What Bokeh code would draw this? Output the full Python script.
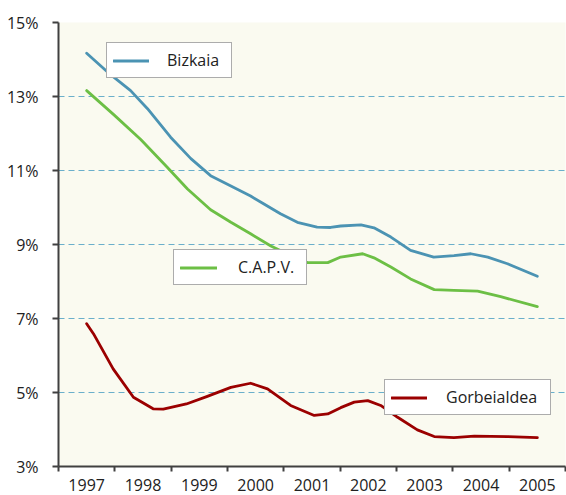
from bokeh.plotting import figure
from bokeh.models import (FixedTicker, PrintfTickFormatter, Legend, LegendItem,
                          Range1d, ColumnDataSource)
from bokeh.embed import file_html
from bokeh.resources import INLINE

# ---- data ----
years = [1997, 1998, 1999, 2000, 2001, 2002, 2003, 2004, 2005]
y_ticks = [3, 5, 7, 9, 11, 13, 15]

bizkaia_t = [1997.00, 1997.37, 1997.78, 1998.08, 1998.49, 1998.85, 1999.20, 1999.56,
             1999.91, 2000.14, 2000.44, 2000.74, 2001.09, 2001.33, 2001.51, 2001.87,
             2002.10, 2002.40, 2002.75, 2003.16, 2003.52, 2003.82, 2004.12, 2004.47,
             2005.00]
bizkaia_v = [14.17, 13.66, 13.16, 12.67, 11.90, 11.32, 10.86, 10.58,
             10.31, 10.10, 9.83, 9.60, 9.47, 9.46, 9.50, 9.53,
             9.45, 9.20, 8.84, 8.66, 8.70, 8.75, 8.66, 8.48,
             8.14]

capv_t = [1997.00, 1997.48, 1997.96, 1998.43, 1998.79, 1999.20, 1999.56, 1999.91,
          2000.27, 2000.68, 2000.92, 2001.28, 2001.51, 2001.90, 2002.10, 2002.40,
          2002.75, 2003.17, 2003.52, 2003.94, 2004.35, 2005.00]
capv_v = [13.16, 12.51, 11.84, 11.09, 10.50, 9.94, 9.60, 9.29,
          8.96, 8.66, 8.51, 8.51, 8.66, 8.75, 8.64, 8.39,
          8.07, 7.78, 7.76, 7.74, 7.59, 7.32]

gorb_t = [1997.00, 1997.12, 1997.47, 1997.83, 1998.18, 1998.36, 1998.77, 1999.13,
          1999.56, 1999.91, 2000.21, 2000.62, 2001.04, 2001.28, 2001.51, 2001.75,
          2001.99, 2002.22, 2002.52, 2002.87, 2003.17, 2003.52, 2003.88, 2004.47,
          2005.00]
gorb_v = [6.86, 6.59, 5.64, 4.87, 4.56, 4.55, 4.69, 4.89,
          5.14, 5.25, 5.10, 4.65, 4.38, 4.42, 4.59, 4.74,
          4.78, 4.65, 4.33, 3.99, 3.81, 3.78, 3.82, 3.81,
          3.78]

series_names = ["Bizkaia", "C.A.P.V.", "Gorbeialdea"]
series_colors = ["#4B93B3", "#6CBF45", "#9B0000"]

FONT = "Open Sans"
TXT = "#222222"
AX = "#404040"

p = figure(width=566, height=495, output_backend="svg", toolbar_location=None,
           x_range=Range1d(years[0] - 0.5, years[-1] + 0.5),
           y_range=Range1d(y_ticks[0], y_ticks[-1]),
           min_border_left=58, min_border_right=1, min_border_top=22, min_border_bottom=29)
p.outline_line_color = None
p.background_fill_color = "#FAFAF0"
p.border_fill_color = "white"

# x axis: labels at year centers, ticks at boundaries
p.xaxis.ticker = FixedTicker(ticks=years, minor_ticks=[y - 0.5 for y in years] + [years[-1] + 0.5])
p.xaxis.major_tick_out = 0
p.xaxis.major_tick_in = 0
p.xaxis.minor_tick_out = 5
p.xaxis.minor_tick_in = 0
p.xaxis.minor_tick_line_color = AX
p.xaxis.minor_tick_line_width = 2
p.xaxis.axis_line_color = AX
p.xaxis.axis_line_width = 2
p.xaxis.major_label_text_font = FONT
p.xaxis.major_label_text_font_size = "16px"
p.xaxis.major_label_text_color = TXT
p.xaxis.major_label_standoff = 7

p.yaxis.ticker = FixedTicker(ticks=y_ticks)
p.yaxis.formatter = PrintfTickFormatter(format="%d%%")
p.yaxis.major_tick_out = 6
p.yaxis.major_tick_in = 0
p.yaxis.minor_tick_line_color = None
p.yaxis.major_tick_line_color = AX
p.yaxis.major_tick_line_width = 2
p.yaxis.axis_line_color = AX
p.yaxis.axis_line_width = 2
p.yaxis.major_label_text_font = FONT
p.yaxis.major_label_text_font_size = "16px"
p.yaxis.major_label_text_color = TXT
p.yaxis.major_label_standoff = 14

p.xgrid.grid_line_color = None
p.ygrid.ticker = FixedTicker(ticks=y_ticks[1:])
p.ygrid.grid_line_color = "#6AAFCB"
p.ygrid.grid_line_dash = "6 4"
p.ygrid.grid_line_width = 1

renderers = []
for t, v, c in [(bizkaia_t, bizkaia_v, series_colors[0]),
                (capv_t, capv_v, series_colors[1]),
                (gorb_t, gorb_v, series_colors[2])]:
    src = ColumnDataSource(dict(x=t, y=v))
    r = p.line("x", "y", source=src, line_color=c, line_width=2.8,
               line_join="round", line_cap="round")
    renderers.append(r)

legend_specs = [
    # (location from frame bottom-left, glyph_width, standoff, label_width)
    ((48, 388), 36, 18, 58),
    ((115, 181), 37, 21, 62),
    ((326, 51), 36, 19, 98),
]
for name, r, (loc, gw, st, lw) in zip(series_names, renderers, legend_specs):
    leg = Legend(items=[LegendItem(label=name, renderers=[r])], location=loc,
                 margin=0, padding=6, spacing=0,
                 glyph_width=gw, glyph_height=17, label_standoff=st,
                 label_width=lw, label_height=17,
                 label_text_font=FONT, label_text_font_size="16px",
                 label_text_color=TXT,
                 border_line_color="#5a5a5a", border_line_width=1.5,
                 background_fill_color="white", background_fill_alpha=1.0)
    p.add_layout(leg, "center")

open("out.html", "w").write(file_html(p, INLINE))
